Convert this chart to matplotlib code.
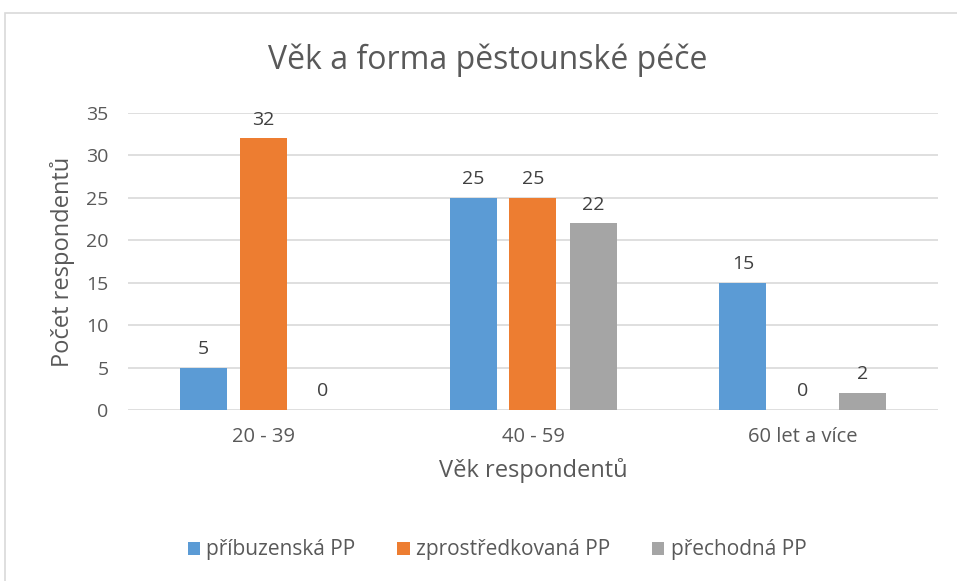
import numpy as np
import matplotlib.pyplot as plt
from matplotlib.patches import Rectangle

# data
categories = ["20 - 39", "40 - 59", "60 let a více"]
series = ["příbuzenská PP", "zprostředkovaná PP", "přechodná PP"]
values = [
    [5, 25, 15],
    [32, 25, 0],
    [0, 22, 2],
]
colors = ["#5B9BD5", "#ED7D31", "#A5A5A5"]
yticks = [0, 5, 10, 15, 20, 25, 30, 35]

plt.rcParams['font.family'] = ['Open Sans', 'DejaVu Sans']
txt = "#595959"

W, H = 957, 581
fig = plt.figure(figsize=(W / 100, H / 100), dpi=100)
ax = fig.add_axes([128 / W, 1 - 410 / H, 810 / W, 297 / H])

# chart border
fig.patches.append(Rectangle((5 / W, -0.1), 1.2, 1 - 13 / H + 0.1,
                             transform=fig.transFigure, fill=False,
                             edgecolor="#D9D9D9", linewidth=1.2))

x = np.arange(len(categories))
bw = 47 / 270
step = 60 / 270
for i, (name, vals) in enumerate(zip(series, values)):
    pos = x + (i - 1) * step
    ax.bar(pos, vals, width=bw, color=colors[i], label=name, zorder=3)
    for p, v in zip(pos, vals):
        ax.annotate(str(v), (p, v), xytext=(0, 7), textcoords="offset points",
                    ha="center", va="bottom", fontsize=14, color="#404040")

ax.set_xlim(-0.5, 2.5)
ax.set_ylim(0, 35)
ax.set_yticks(yticks)
ax.set_yticklabels([str(t) for t in yticks], fontsize=14, color=txt)
ax.set_xticks(x)
ax.set_xticklabels(categories, fontsize=14.5, color=txt)
ax.grid(axis="y", color="#D9D9D9", linewidth=1.2, zorder=0)
for s in ax.spines.values():
    s.set_visible(False)
ax.tick_params(length=0)
ax.tick_params(axis="y", pad=14)
ax.tick_params(axis="x", pad=12)

ax.set_xlabel("Věk respondentů", fontsize=17, color=txt, labelpad=8)
ax.set_ylabel("Počet respondentů", fontsize=17, color=txt, labelpad=8)
fig.suptitle("Věk a forma pěstounské péče", fontsize=23, color=txt,
             y=1 - 60 / H, x=488 / W, va="center")

fig.legend(loc="center", bbox_to_anchor=(497 / W, 1 - 550 / H), ncol=3,
           frameon=False, fontsize=15, labelcolor=txt, handlelength=0.6,
           handleheight=0.6, columnspacing=2.0, handletextpad=0.3)

fig.savefig("out.png", dpi=100)
